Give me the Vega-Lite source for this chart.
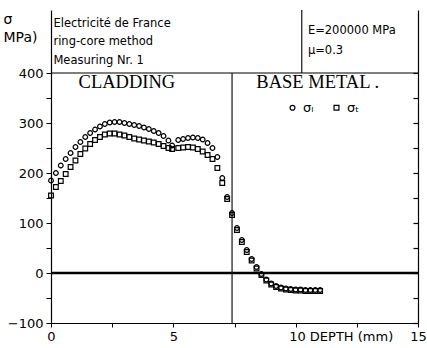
{
  "$schema": "https://vega.github.io/schema/vega-lite/v6.json",
  "width": 367,
  "height": 313,
  "autosize": {"type": "none"},
  "padding": {"left": 51, "top": 10, "right": 9, "bottom": 25},
  "background": "white",
  "config": {"view": {"stroke": null}, "font": "DejaVu Sans"},
  "datasets": {
    "pts": [
      {"depth": 0, "stress": 185, "series": "σₗ"},
      {"depth": 0.2, "stress": 200, "series": "σₗ"},
      {"depth": 0.4, "stress": 215, "series": "σₗ"},
      {"depth": 0.6, "stress": 228, "series": "σₗ"},
      {"depth": 0.8, "stress": 240, "series": "σₗ"},
      {"depth": 1.0, "stress": 252, "series": "σₗ"},
      {"depth": 1.2, "stress": 262, "series": "σₗ"},
      {"depth": 1.4, "stress": 272, "series": "σₗ"},
      {"depth": 1.6, "stress": 280, "series": "σₗ"},
      {"depth": 1.8, "stress": 287, "series": "σₗ"},
      {"depth": 2.0, "stress": 293, "series": "σₗ"},
      {"depth": 2.2, "stress": 298, "series": "σₗ"},
      {"depth": 2.4, "stress": 301, "series": "σₗ"},
      {"depth": 2.6, "stress": 302, "series": "σₗ"},
      {"depth": 2.8, "stress": 302, "series": "σₗ"},
      {"depth": 3.0, "stress": 300, "series": "σₗ"},
      {"depth": 3.2, "stress": 298, "series": "σₗ"},
      {"depth": 3.4, "stress": 296, "series": "σₗ"},
      {"depth": 3.6, "stress": 294, "series": "σₗ"},
      {"depth": 3.8, "stress": 291, "series": "σₗ"},
      {"depth": 4.0, "stress": 288, "series": "σₗ"},
      {"depth": 4.2, "stress": 284, "series": "σₗ"},
      {"depth": 4.4, "stress": 280, "series": "σₗ"},
      {"depth": 4.6, "stress": 274, "series": "σₗ"},
      {"depth": 4.8, "stress": 265, "series": "σₗ"},
      {"depth": 4.95, "stress": 255, "series": "σₗ"},
      {"depth": 5.2, "stress": 266, "series": "σₗ"},
      {"depth": 5.4, "stress": 268, "series": "σₗ"},
      {"depth": 5.6, "stress": 270, "series": "σₗ"},
      {"depth": 5.8, "stress": 271, "series": "σₗ"},
      {"depth": 6.0, "stress": 270, "series": "σₗ"},
      {"depth": 6.2, "stress": 267, "series": "σₗ"},
      {"depth": 6.4, "stress": 260, "series": "σₗ"},
      {"depth": 6.6, "stress": 250, "series": "σₗ"},
      {"depth": 6.8, "stress": 232, "series": "σₗ"},
      {"depth": 7.0, "stress": 190, "series": "σₗ"},
      {"depth": 7.2, "stress": 152, "series": "σₗ"},
      {"depth": 7.4, "stress": 120, "series": "σₗ"},
      {"depth": 7.6, "stress": 90, "series": "σₗ"},
      {"depth": 7.8, "stress": 66, "series": "σₗ"},
      {"depth": 8.0, "stress": 46, "series": "σₗ"},
      {"depth": 8.2, "stress": 28, "series": "σₗ"},
      {"depth": 8.4, "stress": 12, "series": "σₗ"},
      {"depth": 8.6, "stress": -2, "series": "σₗ"},
      {"depth": 8.8, "stress": -13, "series": "σₗ"},
      {"depth": 9.0, "stress": -21, "series": "σₗ"},
      {"depth": 9.2, "stress": -26, "series": "σₗ"},
      {"depth": 9.4, "stress": -29, "series": "σₗ"},
      {"depth": 9.6, "stress": -31, "series": "σₗ"},
      {"depth": 9.8, "stress": -32, "series": "σₗ"},
      {"depth": 10.0, "stress": -33, "series": "σₗ"},
      {"depth": 10.2, "stress": -33, "series": "σₗ"},
      {"depth": 10.4, "stress": -34, "series": "σₗ"},
      {"depth": 10.6, "stress": -34, "series": "σₗ"},
      {"depth": 10.8, "stress": -34, "series": "σₗ"},
      {"depth": 11.0, "stress": -34, "series": "σₗ"},
      {"depth": 0, "stress": 155, "series": "σₜ"},
      {"depth": 0.2, "stress": 172, "series": "σₜ"},
      {"depth": 0.4, "stress": 184, "series": "σₜ"},
      {"depth": 0.6, "stress": 198, "series": "σₜ"},
      {"depth": 0.8, "stress": 212, "series": "σₜ"},
      {"depth": 1.0, "stress": 225, "series": "σₜ"},
      {"depth": 1.2, "stress": 238, "series": "σₜ"},
      {"depth": 1.4, "stress": 249, "series": "σₜ"},
      {"depth": 1.6, "stress": 258, "series": "σₜ"},
      {"depth": 1.8, "stress": 266, "series": "σₜ"},
      {"depth": 2.0, "stress": 272, "series": "σₜ"},
      {"depth": 2.2, "stress": 277, "series": "σₜ"},
      {"depth": 2.4, "stress": 279, "series": "σₜ"},
      {"depth": 2.6, "stress": 279, "series": "σₜ"},
      {"depth": 2.8, "stress": 277, "series": "σₜ"},
      {"depth": 3.0, "stress": 275, "series": "σₜ"},
      {"depth": 3.2, "stress": 272, "series": "σₜ"},
      {"depth": 3.4, "stress": 269, "series": "σₜ"},
      {"depth": 3.6, "stress": 267, "series": "σₜ"},
      {"depth": 3.8, "stress": 265, "series": "σₜ"},
      {"depth": 4.0, "stress": 263, "series": "σₜ"},
      {"depth": 4.2, "stress": 261, "series": "σₜ"},
      {"depth": 4.4, "stress": 258, "series": "σₜ"},
      {"depth": 4.6, "stress": 254, "series": "σₜ"},
      {"depth": 4.8, "stress": 250, "series": "σₜ"},
      {"depth": 4.95, "stress": 248, "series": "σₜ"},
      {"depth": 5.2, "stress": 250, "series": "σₜ"},
      {"depth": 5.4, "stress": 251, "series": "σₜ"},
      {"depth": 5.6, "stress": 252, "series": "σₜ"},
      {"depth": 5.8, "stress": 251, "series": "σₜ"},
      {"depth": 6.0, "stress": 248, "series": "σₜ"},
      {"depth": 6.2, "stress": 243, "series": "σₜ"},
      {"depth": 6.4, "stress": 236, "series": "σₜ"},
      {"depth": 6.6, "stress": 228, "series": "σₜ"},
      {"depth": 6.8, "stress": 210, "series": "σₜ"},
      {"depth": 7.0, "stress": 180, "series": "σₜ"},
      {"depth": 7.2, "stress": 148, "series": "σₜ"},
      {"depth": 7.4, "stress": 116, "series": "σₜ"},
      {"depth": 7.6, "stress": 86, "series": "σₜ"},
      {"depth": 7.8, "stress": 62, "series": "σₜ"},
      {"depth": 8.0, "stress": 42, "series": "σₜ"},
      {"depth": 8.2, "stress": 25, "series": "σₜ"},
      {"depth": 8.4, "stress": 9, "series": "σₜ"},
      {"depth": 8.6, "stress": -4, "series": "σₜ"},
      {"depth": 8.8, "stress": -15, "series": "σₜ"},
      {"depth": 9.0, "stress": -23, "series": "σₜ"},
      {"depth": 9.2, "stress": -28, "series": "σₜ"},
      {"depth": 9.4, "stress": -31, "series": "σₜ"},
      {"depth": 9.6, "stress": -33, "series": "σₜ"},
      {"depth": 9.8, "stress": -34, "series": "σₜ"},
      {"depth": 10.0, "stress": -35, "series": "σₜ"},
      {"depth": 10.2, "stress": -35, "series": "σₜ"},
      {"depth": 10.4, "stress": -36, "series": "σₜ"},
      {"depth": 10.6, "stress": -36, "series": "σₜ"},
      {"depth": 10.8, "stress": -36, "series": "σₜ"},
      {"depth": 11.0, "stress": -36, "series": "σₜ"}
    ],
    "header": [
      {"depth": 0.1, "stress": 498, "text": "Electricité de France"},
      {"depth": 0.1, "stress": 462, "text": "ring-core method"},
      {"depth": 0.1, "stress": 424, "text": "Measuring Nr. 1"},
      {"depth": 10.5, "stress": 484, "text": "E=200000 MPa"},
      {"depth": 10.5, "stress": 444, "text": "μ=0.3"}
    ],
    "regions": [
      {"depth": 3.1, "stress": 382, "text": "CLADDING"},
      {"depth": 10.9, "stress": 382, "text": "BASE METAL ."}
    ]
  },
  "layer": [
    {
      "data": {"values": [{}]},
      "mark": {"type": "rule", "color": "black", "strokeWidth": 2.5},
      "encoding": {
        "x": {"datum": 0, "type": "quantitative", "scale": {"domain": [0, 15], "nice": false, "zero": false}},
        "x2": {"datum": 15},
        "y": {"datum": 0, "type": "quantitative", "scale": {"domain": [-100, 526], "nice": false, "zero": false}, "axis": null}
      }
    },
    {
      "data": {"values": [{}]},
      "mark": {"type": "rule", "color": "black", "strokeWidth": 1.2},
      "encoding": {
        "x": {"datum": 0, "type": "quantitative", "scale": {"domain": [0, 15], "nice": false, "zero": false}},
        "x2": {"datum": 15},
        "y": {"datum": 400, "type": "quantitative", "scale": {"domain": [-100, 526], "nice": false, "zero": false}, "axis": null}
      }
    },
    {
      "data": {"values": [{}]},
      "mark": {"type": "rule", "color": "black", "strokeWidth": 1.1},
      "encoding": {
        "x": {"datum": 7.4, "type": "quantitative", "scale": {"domain": [0, 15], "nice": false, "zero": false}},
        "y": {"datum": -100, "type": "quantitative", "scale": {"domain": [-100, 526], "nice": false, "zero": false}, "axis": null},
        "y2": {"datum": 400}
      }
    },
    {
      "data": {"values": [{}]},
      "mark": {"type": "rule", "color": "black", "strokeWidth": 1.1},
      "encoding": {
        "x": {"datum": 10.25, "type": "quantitative", "scale": {"domain": [0, 15], "nice": false, "zero": false}},
        "y": {"datum": 400, "type": "quantitative", "scale": {"domain": [-100, 526], "nice": false, "zero": false}, "axis": null},
        "y2": {"datum": 526}
      }
    },
    {
      "data": {"name": "pts"},
      "mark": {"type": "point", "opacity": 0},
      "encoding": {
        "x": {"field": "depth", "type": "quantitative", "scale": {"domain": [0, 15], "nice": false, "zero": false}},
        "y": {
          "field": "stress", "type": "quantitative",
          "scale": {"domain": [-100, 526], "nice": false, "zero": false},
          "axis": {
            "orient": "right", "values": [-100, -50, 0, 50, 100, 150, 200, 250, 300, 350, 400],
            "labels": false, "tickSize": -5, "grid": false, "title": null,
            "domainColor": "black", "tickColor": "black", "domainWidth": 1.2, "tickWidth": 1.2
          }
        }
      }
    },
    {
      "data": {"name": "pts"},
      "mark": {"type": "point", "filled": false, "color": "black", "size": 22, "strokeWidth": 1.2, "opacity": 1},
      "encoding": {
        "x": {
          "field": "depth", "type": "quantitative",
          "scale": {"domain": [0, 15], "nice": false, "zero": false},
          "axis": {
            "values": [0, 2.5, 5, 7.5, 10, 12.5, 15],
            "labelExpr": "datum.value == 10 ? '10 DEPTH (mm)' : (datum.value % 5 == 0 ? datum.label : '')",
            "labelAlign": {"condition": {"test": "datum.value == 10", "value": "left"}, "value": "center"},
            "labelOffset": {"condition": {"test": "datum.value == 10", "value": -7}, "value": 0},
            "labelOverlap": false, "labelFlush": false,
            "labelFontSize": 13, "labelColor": "black", "labelPadding": 3,
            "tickSize": 4, "tickColor": "black", "domainColor": "black", "domainWidth": 1.2,
            "grid": false, "title": null
          }
        },
        "y": {
          "field": "stress", "type": "quantitative",
          "scale": {"domain": [-100, 526], "nice": false, "zero": false},
          "axis": {
            "orient": "left",
            "values": [-100, -50, 0, 50, 100, 150, 200, 250, 300, 350, 400],
            "labelExpr": "datum.value % 100 == 0 ? datum.label : ''",
            "labelFontSize": 13, "labelColor": "black", "labelPadding": 3,
            "tickSize": 5, "tickColor": "black", "domainColor": "black", "domainWidth": 1.2,
            "grid": false,
            "title": ["σ", "MPa)"], "titleAngle": 0, "titleAlign": "left", "titleBaseline": "top",
            "titleX": -48, "titleY": 2, "titleFontSize": 14, "titleFontWeight": "normal",
            "titleLineHeight": 18, "titleColor": "black"
          }
        },
        "shape": {
          "field": "series", "type": "nominal",
          "scale": {"domain": ["σₗ", "σₜ"], "range": ["circle", "square"]},
          "legend": {
            "orient": "none", "legendX": 235, "legendY": 91, "direction": "horizontal",
            "title": null, "symbolSize": 24, "symbolStrokeColor": "black", "symbolStrokeWidth": 1.2,
            "labelFontSize": 13, "labelColor": "black", "columnPadding": 16, "labelOffset": 4
          }
        }
      }
    },
    {
      "data": {"name": "header"},
      "mark": {"type": "text", "align": "left", "baseline": "middle", "fontSize": 11.5, "color": "black", "font": "DejaVu Sans"},
      "encoding": {
        "x": {"field": "depth", "type": "quantitative", "scale": {"domain": [0, 15], "nice": false, "zero": false}},
        "y": {"field": "stress", "type": "quantitative", "scale": {"domain": [-100, 526], "nice": false, "zero": false}, "axis": null},
        "text": {"field": "text"}
      }
    },
    {
      "data": {"name": "regions"},
      "mark": {"type": "text", "align": "center", "baseline": "middle", "fontSize": 18.5, "color": "black", "font": "Liberation Serif"},
      "encoding": {
        "x": {"field": "depth", "type": "quantitative", "scale": {"domain": [0, 15], "nice": false, "zero": false}},
        "y": {"field": "stress", "type": "quantitative", "scale": {"domain": [-100, 526], "nice": false, "zero": false}, "axis": null},
        "text": {"field": "text"}
      }
    }
  ],
  "resolve": {"axis": {"y": "independent"}}
}
